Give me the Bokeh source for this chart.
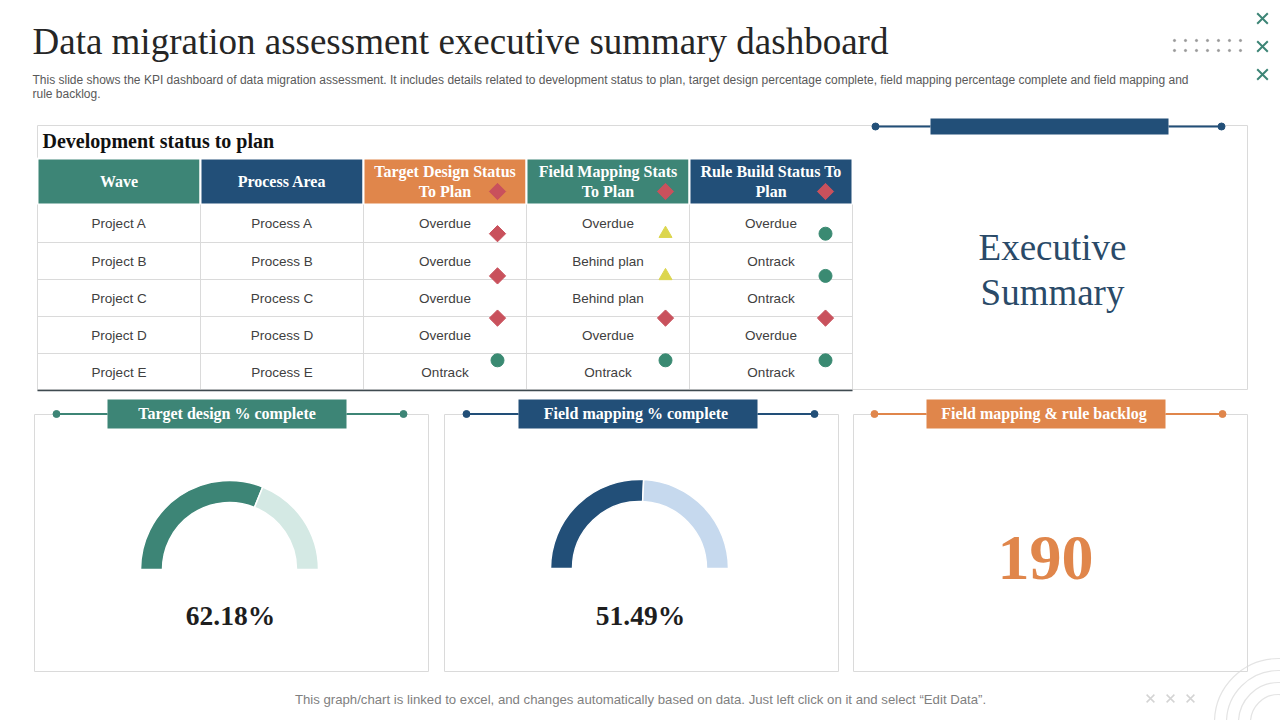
import math
from bokeh.plotting import figure
from bokeh.models import Range1d
from bokeh.core.properties import value
from bokeh.embed import file_html
from bokeh.resources import INLINE

W, H = 1280, 720

# ---------------- data ----------------
table_headers = [
    ["Wave"],
    ["Process Area"],
    ["Target Design Status", "To Plan"],
    ["Field Mapping Stats", "To Plan"],
    ["Rule Build Status To", "Plan"],
]
waves = ["Project A", "Project B", "Project C", "Project D", "Project E"]
process_areas = ["Process A", "Process B", "Process C", "Process D", "Process E"]
target_design_status = ["Overdue", "Overdue", "Overdue", "Overdue", "Ontrack"]
field_mapping_status = ["Overdue", "Behind plan", "Behind plan", "Overdue", "Ontrack"]
rule_build_status = ["Overdue", "Ontrack", "Ontrack", "Overdue", "Ontrack"]

target_design_pct = 62.18
field_mapping_pct = 51.49
backlog_count = 190

# ---------------- styles ----------------
SERIF = "Liberation Serif"
SANS = "Liberation Sans"
TEAL = "#3d8576"
NAVY = "#224f78"
ORANGE = "#e0864b"
RED = "#c9515c"
YELLOW = "#dcd64e"
GREEN = "#3a8a72"
GRID = "#dadada"

status_marker = {
    "Overdue": ("square", RED, math.pi / 4, 11.5),
    "Behind plan": ("triangle", YELLOW, 0.0, 13),
    "Ontrack": ("circle", GREEN, 0.0, 13),
}


def Y(v):
    return H - v


p = figure(width=W, height=H, x_range=Range1d(0, W), y_range=Range1d(0, H),
           output_backend="svg", toolbar_location=None, min_border=0)
p.xaxis.visible = False
p.yaxis.visible = False
p.xgrid.visible = False
p.ygrid.visible = False
p.outline_line_color = None
p.background_fill_color = "white"
p.border_fill_color = "white"


def txt(xs, ys, texts, size, color, font=SERIF, style="normal", align="left"):
    # ys are baselines in page pixels; the svg renderer sits glyphs ~0.35em low
    p.text(x=list(xs), y=[Y(v - 0.35 * size) for v in ys], text=list(texts),
           text_font=value(font), text_font_size=f"{size}px", text_font_style=style,
           text_color=color, text_align=align, text_baseline="alphabetic")


def box(x0, y0, x1, y1, color=GRID, width=1):
    p.quad(left=[x0], right=[x1], top=[Y(y0)], bottom=[Y(y1)], fill_alpha=0,
           line_color=color, line_width=width)


def band(x0, x1, y0, y1, dot_l, dot_r, color):
    ym = Y((y0 + y1) / 2)
    p.segment(x0=[dot_l, x1], y0=[ym, ym], x1=[x0, dot_r], y1=[ym, ym],
              line_color=color, line_width=2)
    p.scatter(x=[dot_l, dot_r], y=[ym, ym], size=7, color=color)
    p.quad(left=[x0], right=[x1], top=[Y(y0)], bottom=[Y(y1)], fill_color=color,
           line_color=None)


# ---------------- title area ----------------
txt([32], [54], ["Data migration assessment executive summary dashboard"], 37, "#262626")
txt([32, 32], [84, 98], [
    "This slide shows the KPI dashboard of data migration assessment. It includes details related to "
    "development status to plan, target design percentage complete, field mapping percentage complete "
    "and field mapping and",
    "rule backlog."], 12, "#595959", font=SANS)

# corner decorations
p.scatter(x=[1262, 1262, 1262], y=[Y(18), Y(46), Y(74)], marker="x", size=15,
          line_color=TEAL, line_width=2)
dot_x = [1174 + 11 * i for i in range(7)]
p.scatter(x=dot_x * 2, y=[Y(40)] * 7 + [Y(50)] * 7, size=2.2, color="#9a9a9a")
p.scatter(x=[1150, 1170, 1190], y=[Y(698)] * 3, marker="x", size=11,
          line_color="#d4d4d4", line_width=1.5)
p.circle(x=[1278] * 4, y=[Y(722)] * 4, radius=[64, 52, 40, 28], fill_alpha=0,
         line_color="#e4e4e4", line_width=1.2)

# ---------------- development status table ----------------
box(37, 125, 1247, 389)
txt([42], [147], ["Development status to plan"], 20, "#111111", style="bold")

col_edges = [37, 200, 363, 526, 689, 852]
header_colors = [TEAL, NAVY, ORANGE, TEAL, NAVY]
head_top, head_bot = 158, 204
row_edges = [204, 242, 279, 316, 353, 390]

p.quad(left=col_edges[:-1], right=col_edges[1:], top=[Y(head_top)] * 5,
       bottom=[Y(head_bot)] * 5, fill_color=header_colors, line_color="white",
       line_width=2)

hx, hy, ht = [], [], []
for i, lines in enumerate(table_headers):
    cx = (col_edges[i] + col_edges[i + 1]) / 2
    base = [187] if len(lines) == 1 else [177, 197]
    for ln, b in zip(lines, base):
        hx.append(cx)
        hy.append(b)
        ht.append(ln)
txt(hx, hy, ht, 16, "white", style="bold", align="center")

# grid lines of the body
p.segment(x0=[col_edges[0]] * 4, x1=[col_edges[-1]] * 4,
          y0=[Y(v) for v in row_edges[1:-1]], y1=[Y(v) for v in row_edges[1:-1]],
          line_color=GRID, line_width=1)
p.segment(x0=col_edges, x1=col_edges, y0=[Y(head_bot)] * 6, y1=[Y(row_edges[-1])] * 6,
          line_color=GRID, line_width=1)
p.segment(x0=[col_edges[0]], x1=[col_edges[-1]], y0=[Y(row_edges[-1])],
          y1=[Y(row_edges[-1])], line_color="#3f4a50", line_width=1.5)

columns = [waves, process_areas, target_design_status, field_mapping_status, rule_build_status]
bx, by, bt = [], [], []
for i, col in enumerate(columns):
    cx = (col_edges[i] + col_edges[i + 1]) / 2
    for r, val in enumerate(col):
        bx.append(cx)
        by.append((row_edges[r] + row_edges[r + 1]) / 2 + 5)
        bt.append(val)
txt(bx, by, bt, 13.5, "#404040", font=SANS, align="center")

# status markers
marker_x = [497, 665, 825]
mx, my, mk, mc, ma, ms = [], [], [], [], [], []
for j, col in enumerate([target_design_status, field_mapping_status, rule_build_status]):
    for r, val in enumerate(col):
        m, c, a, s = status_marker[val]
        mx.append(marker_x[j])
        my.append(Y(191 + 42.2 * r))
        mk.append(m)
        mc.append(c)
        ma.append(a)
        ms.append(s)
p.scatter(x=mx, y=my, marker=mk, fill_color=mc, line_color=mc, angle=ma, size=ms)

# ---------------- executive summary panel ----------------
band(930, 1168, 118, 134, 875, 1221, NAVY)
txt([1052, 1052], [260, 305], ["Executive", "Summary"], 37, "#2a4a68", align="center")

# ---------------- KPI panels ----------------
panels = [
    (34, 428, 107, 346, 56, 403, TEAL, "Target design % complete"),
    (444, 838, 518, 757, 466, 814, NAVY, "Field mapping  % complete"),
    (853, 1247, 926, 1165, 874, 1222, ORANGE, "Field mapping  & rule backlog"),
]
for x0, x1, b0, b1, dl, dr, color, label in panels:
    box(x0, 414, x1, 671)
    band(b0, b1, 399, 428, dl, dr, color)
    txt([(b0 + b1) / 2], [419], [label], 16, "white", style="bold", align="center")

# half-doughnut gauges
gauges = [
    (229, 569, target_design_pct, TEAL, "#d4e9e4"),
    (639, 568, field_mapping_pct, NAVY, "#c6d9ee"),
]
for cx, cy, pct, dark, light in gauges:
    split = math.radians(180 - pct * 1.8)
    p.annular_wedge(x=[cx, cx], y=[Y(cy), Y(cy)], inner_radius=67, outer_radius=89,
                    start_angle=[split, 0.0], end_angle=[math.pi, split],
                    fill_color=[dark, light], line_color="white", line_width=1.5)
    txt([cx + 1], [625], [f"{pct:.2f}%"], 27.5, "#1e1e1e", style="bold", align="center")

txt([1045], [580], [str(backlog_count)], 64, ORANGE, style="bold", align="center")

# footer note
txt([640], [704], ["This graph/chart is linked to excel, and changes automatically based on data. "
                   "Just left click on it and select \u201cEdit Data\u201d."],
    13.2, "#7f7f7f", font=SANS, align="center")

open("out.html", "w").write(file_html(p, INLINE))
